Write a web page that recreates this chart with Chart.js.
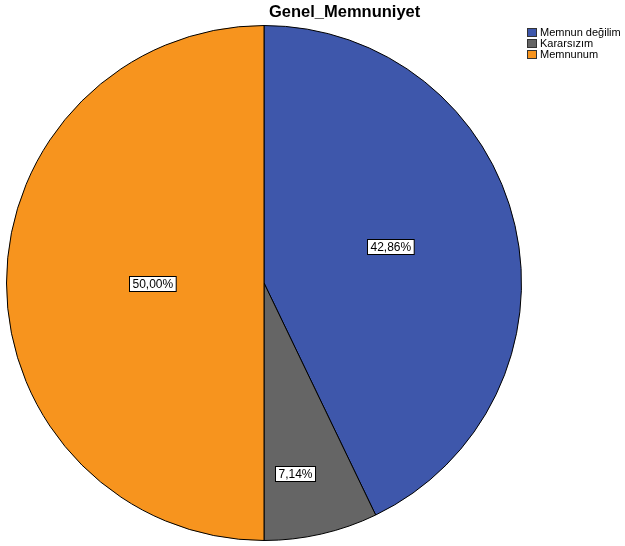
<!DOCTYPE html>
<html>
<head>
<meta charset="utf-8">
<script src="https://cdn.jsdelivr.net/npm/chart.js@4/dist/chart.umd.min.js"></script>
<style>
html,body{margin:0;padding:0;background:#fff;}
#wrap{position:relative;width:625px;height:546px;}
</style>
</head>
<body>
<div id="wrap"><canvas id="c" width="625" height="546"></canvas></div>
<script>
const chartTitle = "Genel_Memnuniyet";
const categories = ["Memnun değilim", "Kararsızım", "Memnunum"];
const percentages = [42.86, 7.14, 50.00];
const sliceColors = ["#3E57AB", "#656565", "#F7941E"];

const FONT = "'Liberation Sans', Arial, sans-serif";

const overlayPlugin = {
  id: 'overlay',
  afterDraw(chart) {
    const ctx = chart.ctx;
    const meta = chart.getDatasetMeta(0);
    // title
    ctx.save();
    ctx.font = "bold 16.5px " + FONT;
    ctx.fillStyle = "#000";
    ctx.textBaseline = "alphabetic";
    ctx.textAlign = "left";
    ctx.fillText(chartTitle, 269, 17);
    ctx.restore();

    // value labels (placement within each slice: angular fraction, radial fraction)
    const angleFractions = [0.478, 0.64, 0.5];
    const radialFactors = [0.511, 0.75, 0.434];
    meta.data.forEach((arc, i) => {
      const p = arc.getProps(['x','y','startAngle','endAngle','outerRadius'], true);
      const a = p.startAngle + (p.endAngle - p.startAngle) * angleFractions[i];
      const r = p.outerRadius * radialFactors[i];
      const x = p.x + Math.cos(a) * r;
      const y = p.y + Math.sin(a) * r;
      const txt = percentages[i].toFixed(2).replace('.', ',') + '%';
      ctx.save();
      ctx.font = "12px " + FONT;
      const w = ctx.measureText(txt).width + 6;
      const h = 15;
      const bx = Math.round(x - w/2) + 0.5, by = Math.round(y - h/2) + 0.5;
      ctx.fillStyle = "#fff";
      ctx.fillRect(bx, by, w, h);
      ctx.strokeStyle = "#000";
      ctx.lineWidth = 1;
      ctx.strokeRect(bx, by, w, h);
      ctx.fillStyle = "#000";
      ctx.textAlign = "center";
      ctx.textBaseline = "middle";
      ctx.fillText(txt, bx + w/2, by + h/2 + 0.5);
      ctx.restore();
    });

    // legend
    ctx.save();
    ctx.font = "11px " + FONT;
    ctx.textBaseline = "middle";
    ctx.textAlign = "left";
    categories.forEach((c, i) => {
      const y = 28 + i * 11;
      ctx.fillStyle = sliceColors[i];
      ctx.fillRect(527, y, 10, 9);
      ctx.strokeStyle = "#333";
      ctx.lineWidth = 1;
      ctx.strokeRect(527.5, y + 0.5, 9, 8);
      ctx.fillStyle = "#000";
      ctx.fillText(c, 540, y + 5);
    });
    ctx.restore();
  }
};

new Chart(document.getElementById('c'), {
  type: 'pie',
  data: {
    labels: categories,
    datasets: [{
      data: percentages,
      backgroundColor: sliceColors,
      borderColor: '#000',
      borderWidth: 1
    }]
  },
  options: {
    responsive: false,
    animation: false,
    layout: { padding: { left: 6, top: 25, right: 103, bottom: 5 } },
    plugins: {
      legend: { display: false },
      title: { display: false },
      tooltip: { enabled: false }
    }
  },
  plugins: [overlayPlugin]
});
</script>
</body>
</html>
